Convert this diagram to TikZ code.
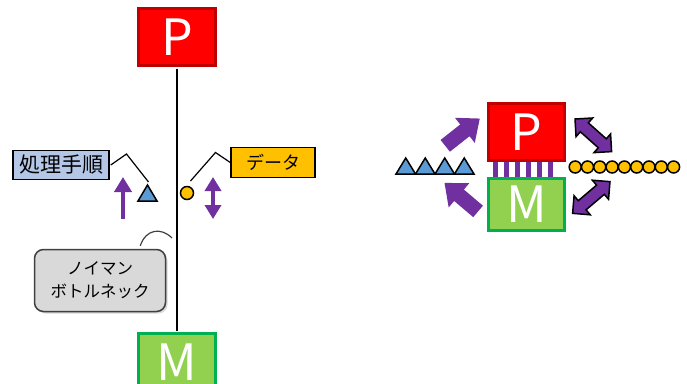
\documentclass[tikz,border=0pt]{standalone}
\usepackage{fontspec}
\setmainfont{Noto Sans CJK JP}
\usetikzlibrary{arrows.meta, shadows}
\definecolor{pred}{RGB}{255,0,0}
\definecolor{pborder}{RGB}{192,0,0}
\definecolor{mgreen}{RGB}{146,208,80}
\definecolor{mborder}{RGB}{0,176,80}
\definecolor{busviolet}{RGB}{112,48,160}
\definecolor{dataorange}{RGB}{255,192,0}
\definecolor{instblue}{RGB}{91,155,213}
\definecolor{procblue}{RGB}{180,199,231}
\definecolor{notegray}{RGB}{217,217,217}
\definecolor{noteline}{RGB}{64,64,64}

\begin{document}
\begin{tikzpicture}[
  x=1pt, y=1pt,
  cpubox/.style  = {rectangle, draw=pborder, fill=pred, line width=3pt, text=white,
                    minimum width=77pt, minimum height=57pt, inner sep=0pt,
                    font=\fontsize{50}{50}\selectfont},
  membox/.style  = {rectangle, draw=mborder, fill=mgreen, line width=3pt, text=white,
                    minimum width=77pt, minimum height=57pt, inner sep=0pt,
                    font=\fontsize{50}{50}\selectfont},
  tagbox/.style  = {rectangle, draw=black, line width=1.5pt, inner sep=0pt, minimum height=29pt},
  notebox/.style = {rectangle, rounded corners=9pt, draw=noteline, fill=notegray, line width=1.5pt,
                    minimum width=131pt, minimum height=62pt, align=center,
                    font=\fontsize{16.5}{23}\selectfont,
                    drop shadow={shadow xshift=2pt, shadow yshift=-2pt, opacity=.3}},
  leader/.style  = {black, line width=1.2pt},
  instr/.style   = {fill=instblue, draw=black, line width=1.5pt},
  datum/.style   = {circle, fill=dataorange, draw=black, line width=1.5pt, minimum size=13pt, inner sep=0pt},
  varr/.style    = {busviolet, line width=4pt, -{Triangle[length=15pt,width=17pt]}},
  bigarr/.pic    = {\fill[busviolet] (-22,-7.5) -- (3,-7.5) -- (3,-16) -- (22,0) -- (3,16)
                    -- (3,7.5) -- (-22,7.5) -- cycle;},
  bigdarr/.pic   = {\filldraw[fill=busviolet, draw=black, line width=1.5pt]
                    (-24.5,0) -- (-12,12.5) -- (-12,6) -- (12,6) -- (12,12.5) -- (24.5,0)
                    -- (12,-12.5) -- (12,-6) -- (-12,-6) -- (-12,-12.5) -- cycle;}
]
\useasboundingbox (0,0) rectangle (687,-383);
\clip (0,0) rectangle (687,-383);

% von Neumann machine: P and M on one bus
\node[cpubox] (pl) at (177,-37)  {P};
\node[membox] (ml) at (177,-362) {M};
\draw[line width=1.5pt, shorten <=1.5pt, shorten >=1.5pt] (pl.south) -- (ml.north);

\node[tagbox, fill=procblue, minimum width=96pt, font=\fontsize{21}{21}\selectfont]
  (proc) at (61,-165) {処理手順};
\node[tagbox, fill=dataorange, minimum width=84pt, minimum height=30pt, font=\fontsize{18}{18}\selectfont]
  (data) at (273,-162.5) {データ};

% one instruction, one datum
\filldraw[instr] (138,-201) -- (147.5,-185) -- (157,-201) -- cycle;
\coordinate (instop) at (148.5,-182);
\draw[leader] ([xshift=1pt]proc.east) -- (126.5,-154) -- (instop);
\node[datum] (dot) at (187,-193) {};
\draw[leader] ([xshift=3.5pt,yshift=12pt]dot.center) -- (215.5,-152.5) -- (data.west);

\draw[varr] (123,-219) -- (123,-177);
\draw[varr, {Triangle[length=14pt,width=16pt]}-{Triangle[length=14pt,width=16pt]}] (213,-177) -- (213,-219);

\node[notebox] (note) at (100,-280.5) {ノイマン\\ボトルネック};
\coordinate (hook) at (172,-238);
\draw[noteline, line width=1.2pt] ([xshift=-26pt,yshift=3pt]note.north east)
  .. controls (146,-229) and (161,-227) .. (hook);

% wide bus between P and M
\foreach \i in {0,...,5}
  \fill[busviolet] (493+11*\i,-158) rectangle ++(4.5,-22);
\node[cpubox, minimum width=76pt] (pr) at (526.5,-132) {P};
\node[membox, minimum width=76pt, minimum height=51.5pt] (mr) at (526.5,-204.5) {M};

\foreach \i in {0,...,3}
  \filldraw[instr] (396+19.5*\i,-174) -- ++(9.75,16) -- ++(9.75,-16) -- cycle;
\foreach \i in {0,...,8}
  \filldraw[fill=dataorange, draw=black, line width=1.5pt] (575.2+12.3*\i,-167) circle (6);

\pic[rotate=38.3]  at (462.5,-132.2) {bigarr};
\pic[rotate=139.7] at (461.3,-197.2) {bigarr};
\pic[rotate=-41.7] at (593.3,-135.3) {bigdarr};
\pic[rotate=40.3]  at (591.3,-197.5) {bigdarr};
\end{tikzpicture}
\end{document}
